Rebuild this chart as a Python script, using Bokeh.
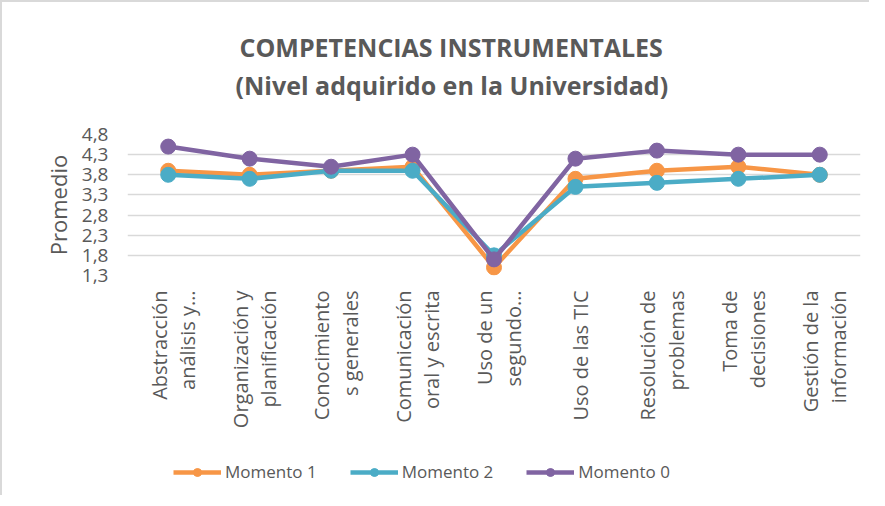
import math
from bokeh.plotting import figure
from bokeh.layouts import column
from bokeh.core.properties import value
from bokeh.models import (FactorRange, Range1d, FixedTicker, Legend, LegendItem, Title)
from bokeh.embed import file_html
from bokeh.resources import INLINE

categories = ["Abstracción\nanálisis y…", "Organización y\nplanificación", "Conocimiento\ns generales",
              "Comunicación\noral y escrita", "Uso de un\nsegundo…", "Uso de las TIC",
              "Resolución de\nproblemas", "Toma de\ndecisiones", "Gestión de la\ninformación"]
momento1 = [3.9, 3.8, 3.9, 4.0, 1.5, 3.7, 3.9, 4.0, 3.8]
momento2 = [3.8, 3.7, 3.9, 3.9, 1.8, 3.5, 3.6, 3.7, 3.8]
momento0 = [4.5, 4.2, 4.0, 4.3, 1.7, 4.2, 4.4, 4.3, 4.3]
y_ticks = [1.3, 1.8, 2.3, 2.8, 3.3, 3.8, 4.3, 4.8]
y_tick_labels = ["1,3", "1,8", "2,3", "2,8", "3,3", "3,8", "4,3", "4,8"]
series_names = ["Momento 1", "Momento 2", "Momento 0"]
colors = ["#F79646", "#4BACC6", "#8064A2"]
title_lines = ["COMPETENCIAS INSTRUMENTALES", "(Nivel adquirido en la Universidad)"]

FONT = "Open Sans"
TXT = "#595959"

x_range = FactorRange(*categories, range_padding=0)

# ---- main plot -------------------------------------------------------------
p = figure(x_range=x_range, y_range=Range1d(1.3, 4.8),
           frame_width=733, frame_height=141, min_border_left=125, min_border_top=132,
           min_border_right=9, min_border_bottom=12,
           output_backend="svg", toolbar_location=None)
p.outline_line_color = None
p.border_fill_color = "white"

p.xaxis.visible = False
p.yaxis.ticker = FixedTicker(ticks=y_ticks)
p.yaxis.major_label_overrides = {t: l for t, l in zip(y_ticks, y_tick_labels)}
p.yaxis.axis_line_color = None
p.yaxis.major_tick_line_color = None
p.yaxis.minor_tick_line_color = None
p.yaxis.major_label_text_font = FONT
p.yaxis.major_label_text_font_size = "19px"
p.yaxis.major_label_text_color = TXT
p.yaxis.major_label_standoff = 13
p.yaxis.axis_label = "Promedio"
p.yaxis.axis_label_text_font = FONT
p.yaxis.axis_label_text_font_size = "22px"
p.yaxis.axis_label_text_font_style = "normal"
p.yaxis.axis_label_text_color = TXT
p.yaxis.axis_label_standoff = 6

p.xgrid.grid_line_color = None
p.ygrid.grid_line_color = "#D9D9D9"
p.ygrid.grid_line_width = 1.5

series = [momento1, momento2, momento0]
for vals, c in zip(series, colors):
    p.line(categories, vals, line_color=c, line_width=4.5)
    p.scatter(categories, vals, size=15, fill_color=c, line_color=c)

p.add_layout(Title(text=" ", text_font_size="10px", standoff=18), "above")
p.add_layout(Title(text=title_lines[1], align="left", offset=108, text_font=FONT,
                   text_font_size="25px", text_font_style="bold", text_color=TXT,
                   standoff=4), "above")
p.add_layout(Title(text=title_lines[0], align="left", offset=112, text_font=FONT,
                   text_font_size="25px", text_font_style="bold", text_color=TXT,
                   standoff=0), "above")

# ---- category labels + legend strip (shares the x range) ----------------------
q = figure(x_range=x_range, y_range=Range1d(208, 0),
           frame_width=733, frame_height=208, min_border_left=125, min_border_top=0,
           min_border_right=9, min_border_bottom=0,
           output_backend="svg", toolbar_location=None)
q.outline_line_color = None
q.axis.visible = False
q.grid.grid_line_color = None
q.border_fill_color = "white"

q.text(x=categories, y=[3] * len(categories), text=categories, angle=math.pi / 2,
       x_offset=5, text_align="right", text_baseline="middle", text_line_height=1.05,
       text_font=value(FONT), text_font_size="20px", text_color=TXT)

# legend renderers: the same series on an off-screen range of this strip
q.extra_y_ranges = {"hidden": Range1d(100, 200)}
items = []
for name, vals, c in zip(series_names, series, colors):
    l = q.line(categories, vals, line_color=c, line_width=4.5, y_range_name="hidden")
    s = q.scatter(categories, vals, size=15, fill_color=c, line_color=c, y_range_name="hidden")
    items.append(LegendItem(label=name, renderers=[l, s]))

legend = Legend(items=items, orientation="horizontal", location=(46, 12),
                glyph_width=48, glyph_height=20, label_standoff=4, spacing=33,
                padding=0, margin=0, border_line_color=None, background_fill_alpha=0,
                label_text_font=FONT, label_text_font_size="17px", label_text_color=TXT)
q.add_layout(legend, "center")

layout = column(p, q, spacing=0,
                styles={"border-left": "2px solid #D9D9D9", "border-top": "2px solid #D9D9D9"})

open("out.html", "w").write(file_html(layout, INLINE))
